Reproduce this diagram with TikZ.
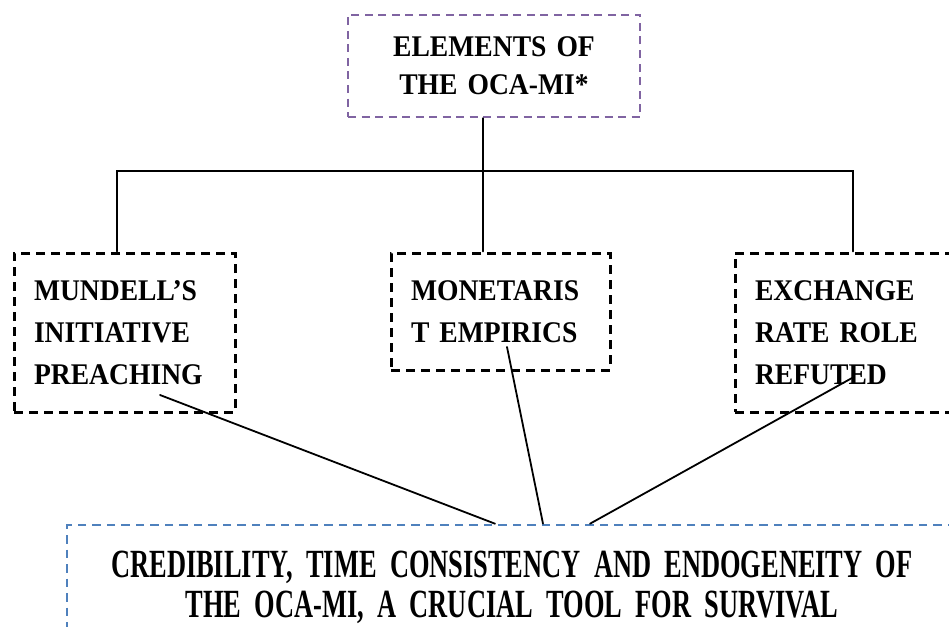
\documentclass[tikz,border=0pt]{standalone}
\usepackage{fontspec}
\setmainfont{Liberation Serif}
\newfontfamily\boxfont[FakeStretch=0.92]{Liberation Serif}
\newfontfamily\narrowfont[FakeStretch=0.66]{Liberation Serif}
\usetikzlibrary{calc}
\definecolor{boxpurple}{HTML}{8064A2}
\definecolor{boxblue}{HTML}{4F81BD}

\tikzset{
  dashbox/.style={draw=black, line width=3pt, dash pattern=on 9pt off 6pt,
    inner xsep=20pt, inner ysep=0pt, align=left,
    font=\boxfont\bfseries\fontsize{30}{42}\selectfont},
  headbox/.style={draw=boxpurple, line width=2.4pt, dash pattern=on 8pt off 5.5pt,
    inner xsep=20pt, inner ysep=0pt, align=center,
    font=\boxfont\bfseries\fontsize{30}{38}\selectfont},
  basebox/.style={draw=boxblue, line width=2.6pt, dash pattern=on 8.5pt off 6pt,
    inner xsep=20pt, inner ysep=0pt, align=center,
    font=\narrowfont\bfseries\fontsize{40}{40}\selectfont},
  link/.style={line width=1.8pt, line cap=round}
}

\begin{document}
\begin{tikzpicture}[x=1pt, y=-1pt]
\useasboundingbox (0,0) rectangle (949,626);
\clip (0,0) rectangle (949,626);

% boxes
\node[headbox, text width=252pt, minimum height=102pt] (top) at (494,66)
  {ELEMENTS OF\\THE OCA-MI*};
\node[dashbox, text width=181pt, minimum height=159pt] (L) at (124.5,332.5)
  {MUNDELL’S\\INITIATIVE\\PREACHING};
\node[dashbox, text width=179pt, minimum height=117pt] (M) at (500.5,311.5)
  {MONETARIS\\T EMPIRICS};
\node[dashbox, text width=200pt, minimum height=159pt] (R) at (855,332.5)
  {EXCHANGE\\RATE ROLE\\REFUTED};
\node[basebox, text width=850pt, minimum height=124pt] (bot) at (512,587)
  {CREDIBILITY, TIME CONSISTENCY AND ENDOGENEITY OF\\THE OCA-MI, A CRUCIAL TOOL FOR SURVIVAL};

% tree from the heading to the three elements
\draw[link] ([xshift=-11pt]top.south) -- ++(0,53) coordinate (hub);
\draw[link] ([xshift=-7.5pt]L.north) |- (hub) -| ([xshift=-2pt]R.north);
\draw[link] (hub) -- ([xshift=-17.5pt]M.north);

% the three elements feed the bottom statement
\draw[link] ($(L.center)+(35.5,62.5)$) -- ([xshift=-17pt]bot.north);
\draw[link] ($(M.center)+(6.5,35.5)$) -- ([xshift=31pt]bot.north);
\draw[link] ($(R.center)+(-3,45.5)$) -- ([xshift=78pt]bot.north);
\end{tikzpicture}
\end{document}
